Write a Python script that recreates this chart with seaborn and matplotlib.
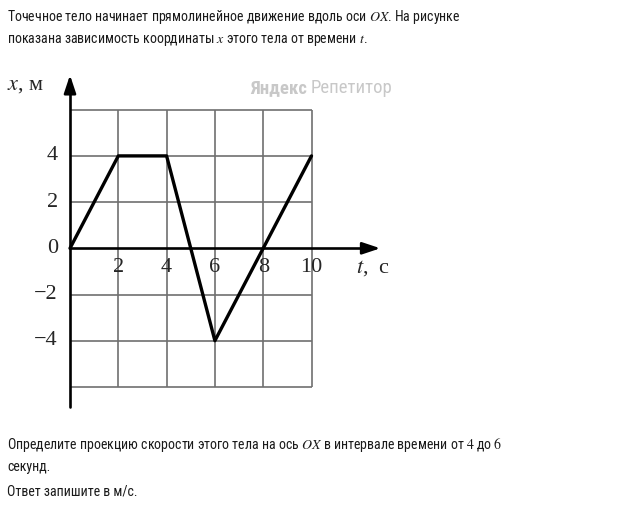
import matplotlib
matplotlib.use('Agg')
import matplotlib.pyplot as plt
import seaborn as sns
import pandas as pd

# ── Data ──
t_points = [0, 2, 4, 6, 10]
x_points = [0, 4, 4, -4, 4]
x_ticks = [2, 4, 6, 8, 10]
y_ticks = [4, 2, 0, -2, -4]
y_tick_labels = ['4', '2', '0', '−2', '−4']
grid_t = [2, 4, 6, 8, 10]
grid_x = [-6, -4, -2, 2, 4, 6]

sns.set_theme(style="white")
plt.rcParams['mathtext.fontset'] = 'stix'
TEXT_FONT = ['DejaVu Sans Condensed', 'Roboto Condensed', 'Liberation Sans Narrow', 'Roboto']
SERIF = ['Liberation Serif', 'DejaVu Serif']

W, H = 643, 515
fig = plt.figure(figsize=(W / 100, H / 100), dpi=100)

# axes placed so that t=0 -> px 70, x=0 -> py 248
xlim = (-2.5, 13.5)
ylim = (-7.0, 7.5)
px_per_t = 24.15
px_per_x = 23.1
left_px = 70 + xlim[0] * px_per_t
right_px = 70 + xlim[1] * px_per_t
bottom_py = 248.3 - ylim[0] * px_per_x
top_py = 248.3 - ylim[1] * px_per_x
ax = fig.add_axes([left_px / W, 1 - bottom_py / H,
                   (right_px - left_px) / W, (bottom_py - top_py) / H])
ax.set_xlim(*xlim)
ax.set_ylim(*ylim)
ax.axis('off')

# grid
ax.vlines(grid_t, -6, 6, color='#707070', lw=1.2, zorder=1)
ax.hlines(grid_x, 0, 10, color='#707070', lw=1.2, zorder=1)

# axes with arrows
ax.plot([0, 0], [-6.85, 7.0], color='black', lw=1.9, zorder=2)
ax.plot([0, 12.5], [0, 0], color='black', lw=1.9, zorder=2)
ax.annotate('', xy=(0, 7.5), xytext=(0, 6.9),
            arrowprops=dict(arrowstyle='-|>,head_length=0.9,head_width=0.3',
                            color='black', lw=1.9, shrinkA=0, shrinkB=0))
ax.annotate('', xy=(12.85, 0), xytext=(12.2, 0),
            arrowprops=dict(arrowstyle='-|>,head_length=0.9,head_width=0.3',
                            color='black', lw=1.9, shrinkA=0, shrinkB=0))

# x(t) line
df = pd.DataFrame({'t': t_points, 'x': x_points})
sns.lineplot(data=df, x='t', y='x', ax=ax, color='black', lw=2.4,
             sort=False, estimator=None, zorder=3)

# tick labels
for v, lab in zip(y_ticks, y_tick_labels):
    ax.text(-0.5, v, lab, ha='right', va='center', fontsize=16, family=SERIF)
for v in x_ticks:
    ax.text(v, -0.85, str(v), ha='center', va='center', fontsize=16, family=SERIF)

ax.text(-2.6, 7.05, r'$x$, м', ha='left', va='center', fontsize=16, family=SERIF)
ax.text(11.85, -0.85, r'$t$,  с', ha='left', va='center', fontsize=16, family=SERIF)

# watermark
fig.text(250 / W, 1 - 88 / H, 'Яндекс', fontsize=13.5, fontweight='bold',
         color='#c8c8c8', family=TEXT_FONT, va='center', ha='left')
fig.text(311 / W, 1 - 88 / H, 'Репетитор', fontsize=13.5,
         color='#c8c8c8', family=TEXT_FONT, va='center', ha='left')

# question text
lines = [
    (17, r'Точечное тело начинает прямолинейное движение вдоль оси $OX$. На рисунке'),
    (40, r'показана зависимость координаты $x$ этого тела от времени $t$.'),
    (445, r'Определите проекцию скорости этого тела на ось $OX$ в интервале времени от $4$ до $6$'),
    (467, 'секунд.'),
    (492, 'Ответ запишите в м/с.'),
]
for py, s in lines:
    fig.text(7 / W, 1 - py / H, s, fontsize=10, family=TEXT_FONT,
             color='#1a1a1a', ha='left', va='center')

fig.savefig('out.png', dpi=100, facecolor='white')
